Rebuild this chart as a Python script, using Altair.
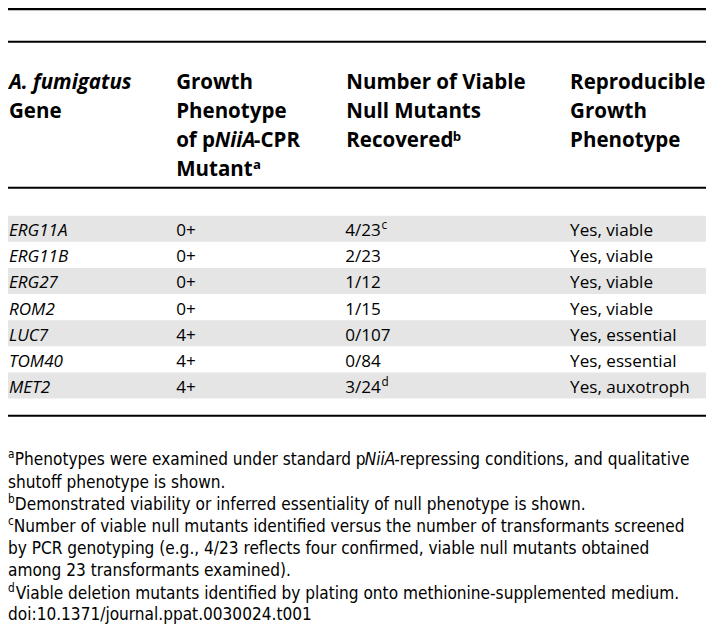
import altair as alt
import pandas as pd

# ---------------- data ----------------
header_col1 = ["A. fumigatus", "Gene"]
header_col2 = ["Growth", "Phenotype", "of p", "NiiA", "-CPR", "Mutant"]
header_col3 = ["Number of Viable", "Null Mutants", "Recovered"]
header_col4 = ["Reproducible", "Growth", "Phenotype"]
header_sups = ["a", "b"]

genes = ["ERG11A", "ERG11B", "ERG27", "ROM2", "LUC7", "TOM40", "MET2"]
growth = ["0+", "0+", "0+", "0+", "4+", "4+", "4+"]
recovered = ["4/23", "2/23", "1/12", "1/15", "0/107", "0/84", "3/24"]
recovered_sup = ["c", "", "", "", "", "", "d"]
reproducible = ["Yes, viable", "Yes, viable", "Yes, viable", "Yes, viable",
                "Yes, essential", "Yes, essential", "Yes, auxotroph"]

foot_sups = ["a", "b", "c", "d"]
foot_lines = [
    "Phenotypes were examined under standard p",
    "-repressing conditions, and qualitative",
    "shutoff phenotype is shown.",
    "Demonstrated viability or inferred essentiality of null phenotype is shown.",
    "Number of viable null mutants identified versus the number of transformants screened",
    "by PCR genotyping (e.g., 4/23 reflects four confirmed, viable null mutants obtained",
    "among 23 transformants examined).",
    "Viable deletion mutants identified by plating onto methionine-supplemented medium.",
    "doi:10.1371/journal.ppat.0030024.t001",
]
foot_italic = ["NiiA"]

# ---------------- layout (reference pixel space) ----------------
W, H = 714, 639
S = 698 / 714
FONT = "Open Sans"
FOOT_FONT = "Liberation Sans Narrow, DejaVu Sans Condensed, Roboto"
col_x = [1, 172, 346, 575]
head_base = [83, 113, 143, 172]
row_top0, row_h = 213, 26.8
row_base0 = 234
foot_base = [469, 492, 515, 537.5, 560, 583, 606, 628]

xs = alt.Scale(domain=[0, W], nice=False, zero=False)
ys = alt.Scale(domain=[0, H], nice=False, zero=False, reverse=True)


def txt(rows, size, weight="normal", style="normal", font=FONT):
    df = pd.DataFrame(rows, columns=["x", "y", "t"])
    return alt.Chart(df).mark_text(
        align="left", baseline="alphabetic", font=font, fontSize=size * S,
        fontWeight=weight, fontStyle=style, color="#000000"
    ).encode(
        x=alt.X("x:Q", scale=xs, axis=None),
        y=alt.Y("y:Q", scale=ys, axis=None),
        text="t:N",
    )


# shading rows
shade = pd.DataFrame({
    "y": [row_top0 + row_h * i for i in range(0, len(genes), 2)],
    "y2": [row_top0 + row_h * (i + 1) for i in range(0, len(genes), 2)],
})
shade["x"] = 0
shade["x2"] = W
shade_layer = alt.Chart(shade).mark_rect(color="#e5e5e5").encode(
    x=alt.X("x:Q", scale=xs, axis=None), x2="x2",
    y=alt.Y("y:Q", scale=ys, axis=None), y2="y2")

rules = pd.DataFrame({"y": [1.2, 34.5, 184.3, 418.3], "w": [2.4, 2, 2, 2]})
rules["x"] = 0
rules["x2"] = W
rule_layer = alt.Chart(rules).mark_rule(color="#000000").encode(
    x=alt.X("x:Q", scale=xs, axis=None), x2="x2",
    y=alt.Y("y:Q", scale=ys, axis=None),
    strokeWidth=alt.StrokeWidth("w:Q", scale=None, legend=None))

HS = 21
head_bold = [
    (col_x[0], head_base[1], header_col1[1]),
    (col_x[1], head_base[0], header_col2[0]),
    (col_x[1], head_base[1], header_col2[1]),
    (col_x[1], head_base[2], header_col2[2]),
    (251.5, head_base[2], header_col2[4]),
    (col_x[1], head_base[3], header_col2[5]),
] + [(col_x[2], head_base[i], header_col3[i]) for i in range(3)] \
  + [(col_x[3], head_base[i], header_col4[i]) for i in range(3)]
head_bi = [
    (col_x[0], head_base[0], header_col1[0]),
    (211.5, head_base[2], header_col2[3]),
]
head_sup = [(250.5, head_base[3] - 7, header_sups[0]),
            (455, head_base[2] - 7, header_sups[1])]

BS = 17.5
body_base = [row_base0 + row_h * i for i in range(len(genes))]
body_it = [(col_x[0], body_base[i], genes[i]) for i in range(len(genes))]
body_reg = [(col_x[1], body_base[i], growth[i]) for i in range(len(genes))] \
    + [(col_x[2] - 1, body_base[i], recovered[i]) for i in range(len(genes))] \
    + [(col_x[3], body_base[i], reproducible[i]) for i in range(len(genes))]
body_sup = [(382, body_base[i] - 7, recovered_sup[i]) for i in range(len(genes)) if recovered_sup[i]]

FS = 17.5
foot_reg = [
    (7, foot_base[0], foot_lines[0]),
    (395, foot_base[0], foot_lines[1]),
    (0, foot_base[1], foot_lines[2]),
    (7, foot_base[2], foot_lines[3]),
    (6, foot_base[3], foot_lines[4]),
    (0, foot_base[4], foot_lines[5]),
    (0, foot_base[5], foot_lines[6]),
    (8, foot_base[6], foot_lines[7]),
    (0, foot_base[7], foot_lines[8]),
]
foot_it = [(365, foot_base[0], foot_italic[0])]
foot_sup = [(0, foot_base[0] - 7, foot_sups[0]), (0, foot_base[2] - 7, foot_sups[1]),
            (0, foot_base[3] - 7, foot_sups[2]), (0, foot_base[6] - 7, foot_sups[3])]

chart = alt.layer(
    shade_layer, rule_layer,
    txt(head_bold, HS, weight="bold"),
    txt(head_bi, HS, weight="bold", style="italic"),
    txt(head_sup, 13.5, weight="bold"),
    txt(body_it, BS, style="italic"),
    txt(body_reg, BS),
    txt(body_sup, 12),
    txt(foot_reg, FS, font=FOOT_FONT),
    txt(foot_it, FS, style="italic", font=FOOT_FONT),
    txt(foot_sup, 12, font=FOOT_FONT),
).properties(
    width=698, height=623, padding=0, autosize=alt.AutoSizeParams(type="none"),
    background="white",
).configure_view(stroke=None)

chart.save("out.html", embed_options={"renderer": "svg", "actions": False})
